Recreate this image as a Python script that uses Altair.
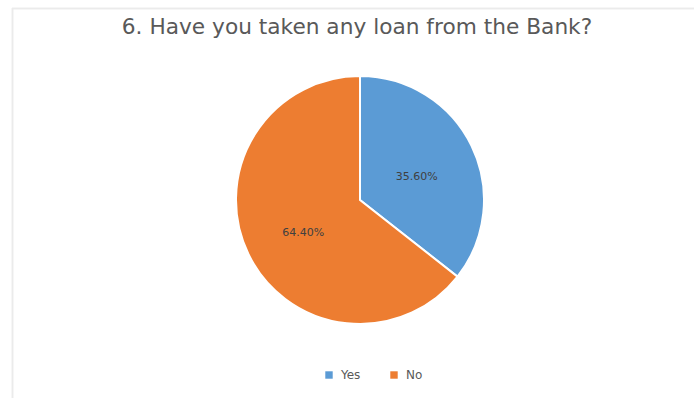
import altair as alt
import pandas as pd

# Survey answers and their shares (percent)
answers = ["Yes", "No"]
shares = [35.60, 64.40]
share_labels = ["35.60%", "64.40%"]
slice_colors = ["#5B9BD5", "#ED7D31"]

df = pd.DataFrame({
    "answer": answers,
    "share": shares,
    "label": share_labels,
    "order": list(range(len(answers))),
})

theta = alt.Theta("share:Q", stack=True)
color = alt.Color(
    "answer:N",
    scale=alt.Scale(domain=answers, range=slice_colors),
    sort=answers,
    legend=alt.Legend(
        title=None,
        orient="none",
        direction="horizontal",
        legendX=323,
        legendY=369,
        symbolType="square",
        symbolSize=55,
        symbolStrokeWidth=0,
        labelFont="DejaVu Sans",
        labelFontSize=12,
        labelColor="#595959",
        columnPadding=27,
        labelOffset=6,
    ),
)

base = alt.Chart(df).encode(
    theta=theta,
    order=alt.Order("order:Q"),
)

pie = base.mark_arc(
    outerRadius=124, stroke="white", strokeWidth=2
).encode(
    color=color,
    x=alt.value(360),
    y=alt.value(200),
)

labels = base.mark_text(
    radius=63, dy=5, font="DejaVu Sans", fontSize=11, color="#404040"
).encode(
    text="label:N",
    x=alt.value(360),
    y=alt.value(200),
)

# faint frame edges along the top and left of the chart area
frame_top = alt.Chart(df).mark_rule(color="#ebebeb", strokeWidth=1.5).encode(
    x=alt.value(12), x2=alt.value(694), y=alt.value(8.5)
)
frame_left = alt.Chart(df).mark_rule(color="#ebebeb", strokeWidth=1.5).encode(
    x=alt.value(12.5), y=alt.value(8), y2=alt.value(398)
)

chart = alt.layer(frame_top, frame_left, pie, labels).properties(
    width=694,
    height=398,
    autosize=alt.AutoSizeParams(type="none"),
    padding=0,
    title=alt.TitleParams(
        "6. Have you taken any loan from the Bank?",
        anchor="middle",
        frame="group",
        font="DejaVu Sans",
        fontSize=21.7,
        fontWeight="normal",
        color="#595959",
        dx=10,
        dy=43,
    ),
).configure_view(stroke=None)

chart.save("out.html", embed_options={"renderer": "svg", "actions": False})
